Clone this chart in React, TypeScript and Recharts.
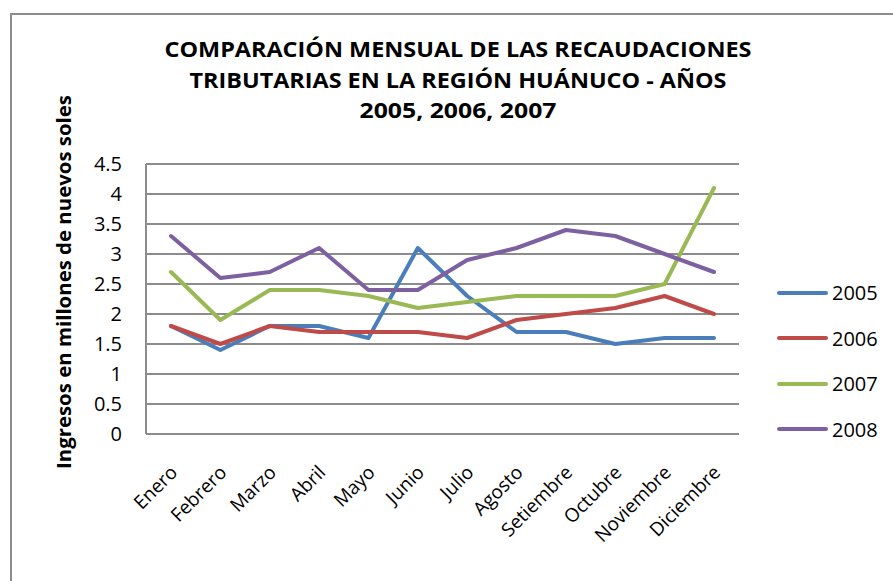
import React from 'react';
import { LineChart, Line, XAxis, YAxis, CartesianGrid, Legend, Label } from 'recharts';

const MONTHS = ['Enero', 'Febrero', 'Marzo', 'Abril', 'Mayo', 'Junio', 'Julio', 'Agosto', 'Setiembre', 'Octubre', 'Noviembre', 'Diciembre'];
const V2005 = [1.8, 1.4, 1.8, 1.8, 1.6, 3.1, 2.3, 1.7, 1.7, 1.5, 1.6, 1.6];
const V2006 = [1.8, 1.5, 1.8, 1.7, 1.7, 1.7, 1.6, 1.9, 2.0, 2.1, 2.3, 2.0];
const V2007 = [2.7, 1.9, 2.4, 2.4, 2.3, 2.1, 2.2, 2.3, 2.3, 2.3, 2.5, 4.1];
const V2008 = [3.3, 2.6, 2.7, 3.1, 2.4, 2.4, 2.9, 3.1, 3.4, 3.3, 3.0, 2.7];
const Y_TICKS = [0, 0.5, 1, 1.5, 2, 2.5, 3, 3.5, 4, 4.5];

const TITLE = [
  'COMPARACIÓN MENSUAL DE LAS RECAUDACIONES',
  'TRIBUTARIAS EN LA REGIÓN HUÁNUCO - AÑOS',
  '2005, 2006, 2007',
];
const Y_LABEL = 'Ingresos en millones de nuevos soles';

const SERIES = [
  { key: 's2005', name: '2005', color: '#4a7ebb', values: V2005 },
  { key: 's2006', name: '2006', color: '#be4b48', values: V2006 },
  { key: 's2007', name: '2007', color: '#98b954', values: V2007 },
  { key: 's2008', name: '2008', color: '#7d60a0', values: V2008 },
];

const data = MONTHS.map((m, i) => {
  const row: Record<string, string | number> = { month: m };
  SERIES.forEach(s => { row[s.key] = s.values[i]; });
  return row;
});

const FONT = '"Open Sans", sans-serif';
const GRID = '#8c8c8c';

const MonthTick = (props: any) => {
  const { x, y, payload } = props;
  return (
    <text
      x={x + 4}
      y={y}
      transform={`rotate(-45, ${x + 4}, ${y})`}
      textAnchor="end"
      dominantBaseline="middle"
      fontFamily={FONT}
      fontSize={19}
      fill="#000"
    >
      {payload.value}
    </text>
  );
};

const YLabel = (props: any) => {
  const { viewBox } = props;
  const cx = viewBox.x + 66;
  const cy = viewBox.y + viewBox.height / 2 - 17;
  return (
    <text
      x={cx}
      y={cy}
      transform={`rotate(-90, ${cx}, ${cy})`}
      textAnchor="middle"
      dominantBaseline="middle"
      fontFamily={FONT}
      fontWeight="bold"
      fontSize={19}
      textLength={374}
      lengthAdjust="spacingAndGlyphs"
      fill="#000"
    >
      {Y_LABEL}
    </text>
  );
};

const LegendBox = () => (
  <div style={{ fontFamily: FONT, fontSize: 20, color: '#000' }}>
    {SERIES.map(s => (
      <div key={s.key} style={{ display: 'flex', alignItems: 'center', height: 45.5 }}>
        <span style={{ display: 'inline-block', width: 51, height: 4, borderRadius: 2, background: s.color, marginRight: 4 }} />
        <span>{s.name}</span>
      </div>
    ))}
  </div>
);

const TITLE_WIDTHS = [587, 537, 197];

export default function App() {
  return (
    <div style={{ position: 'absolute', left: 0, top: 0, width: 893, height: 581, background: '#fff', overflow: 'hidden' }}>
      <div style={{ position: 'absolute', left: 10, top: 13, width: 900, height: 600, border: '2px solid #8c8c8c', boxSizing: 'border-box' }} />
      <svg width={893} height={140} style={{ position: 'absolute', left: 0, top: 0 }}>
        {TITLE.map((t, i) => (
          <text
            key={i}
            x={458}
            y={57 + i * 30.5}
            textAnchor="middle"
            fontFamily={FONT}
            fontWeight="bold"
            fontSize={21}
            textLength={TITLE_WIDTHS[i]}
            lengthAdjust="spacingAndGlyphs"
            fill="#000"
          >
            {t}
          </text>
        ))}
      </svg>
      <div style={{ position: 'absolute', left: 0, top: 0 }}>
        <LineChart width={893} height={581} data={data} margin={{ top: 164, right: 154, bottom: 47, left: 0 }}>
          <CartesianGrid vertical={false} stroke={GRID} strokeWidth={1.8} />
          <XAxis
            dataKey="month"
            interval={0}
            height={100}
            padding={{ left: 25, right: 25 }}
            tick={<MonthTick />}
            tickLine={false}
            tickSize={0}
            tickMargin={36}
            axisLine={{ stroke: GRID, strokeWidth: 2 }}
          />
          <YAxis
            width={146}
            domain={[0, 4.5]}
            ticks={Y_TICKS}
            interval={0}
            tickLine={false}
            tickSize={0}
            tickMargin={24}
            axisLine={{ stroke: GRID, strokeWidth: 2 }}
            tick={{ fontFamily: FONT, fontSize: 20, fill: '#000' }}
          >
            <Label content={<YLabel />} />
          </YAxis>
          <Legend
            layout="vertical"
            align="center"
            verticalAlign="middle"
            content={<LegendBox />}
            wrapperStyle={{ left: 777, top: 270, width: 110 }}
          />
          {SERIES.map(s => (
            <Line
              key={s.key}
              type="linear"
              dataKey={s.key}
              name={s.name}
              stroke={s.color}
              strokeWidth={4}
              strokeLinejoin="round"
              strokeLinecap="round"
              dot={false}
              activeDot={false}
              isAnimationActive={false}
            />
          ))}
        </LineChart>
      </div>
    </div>
  );
}
